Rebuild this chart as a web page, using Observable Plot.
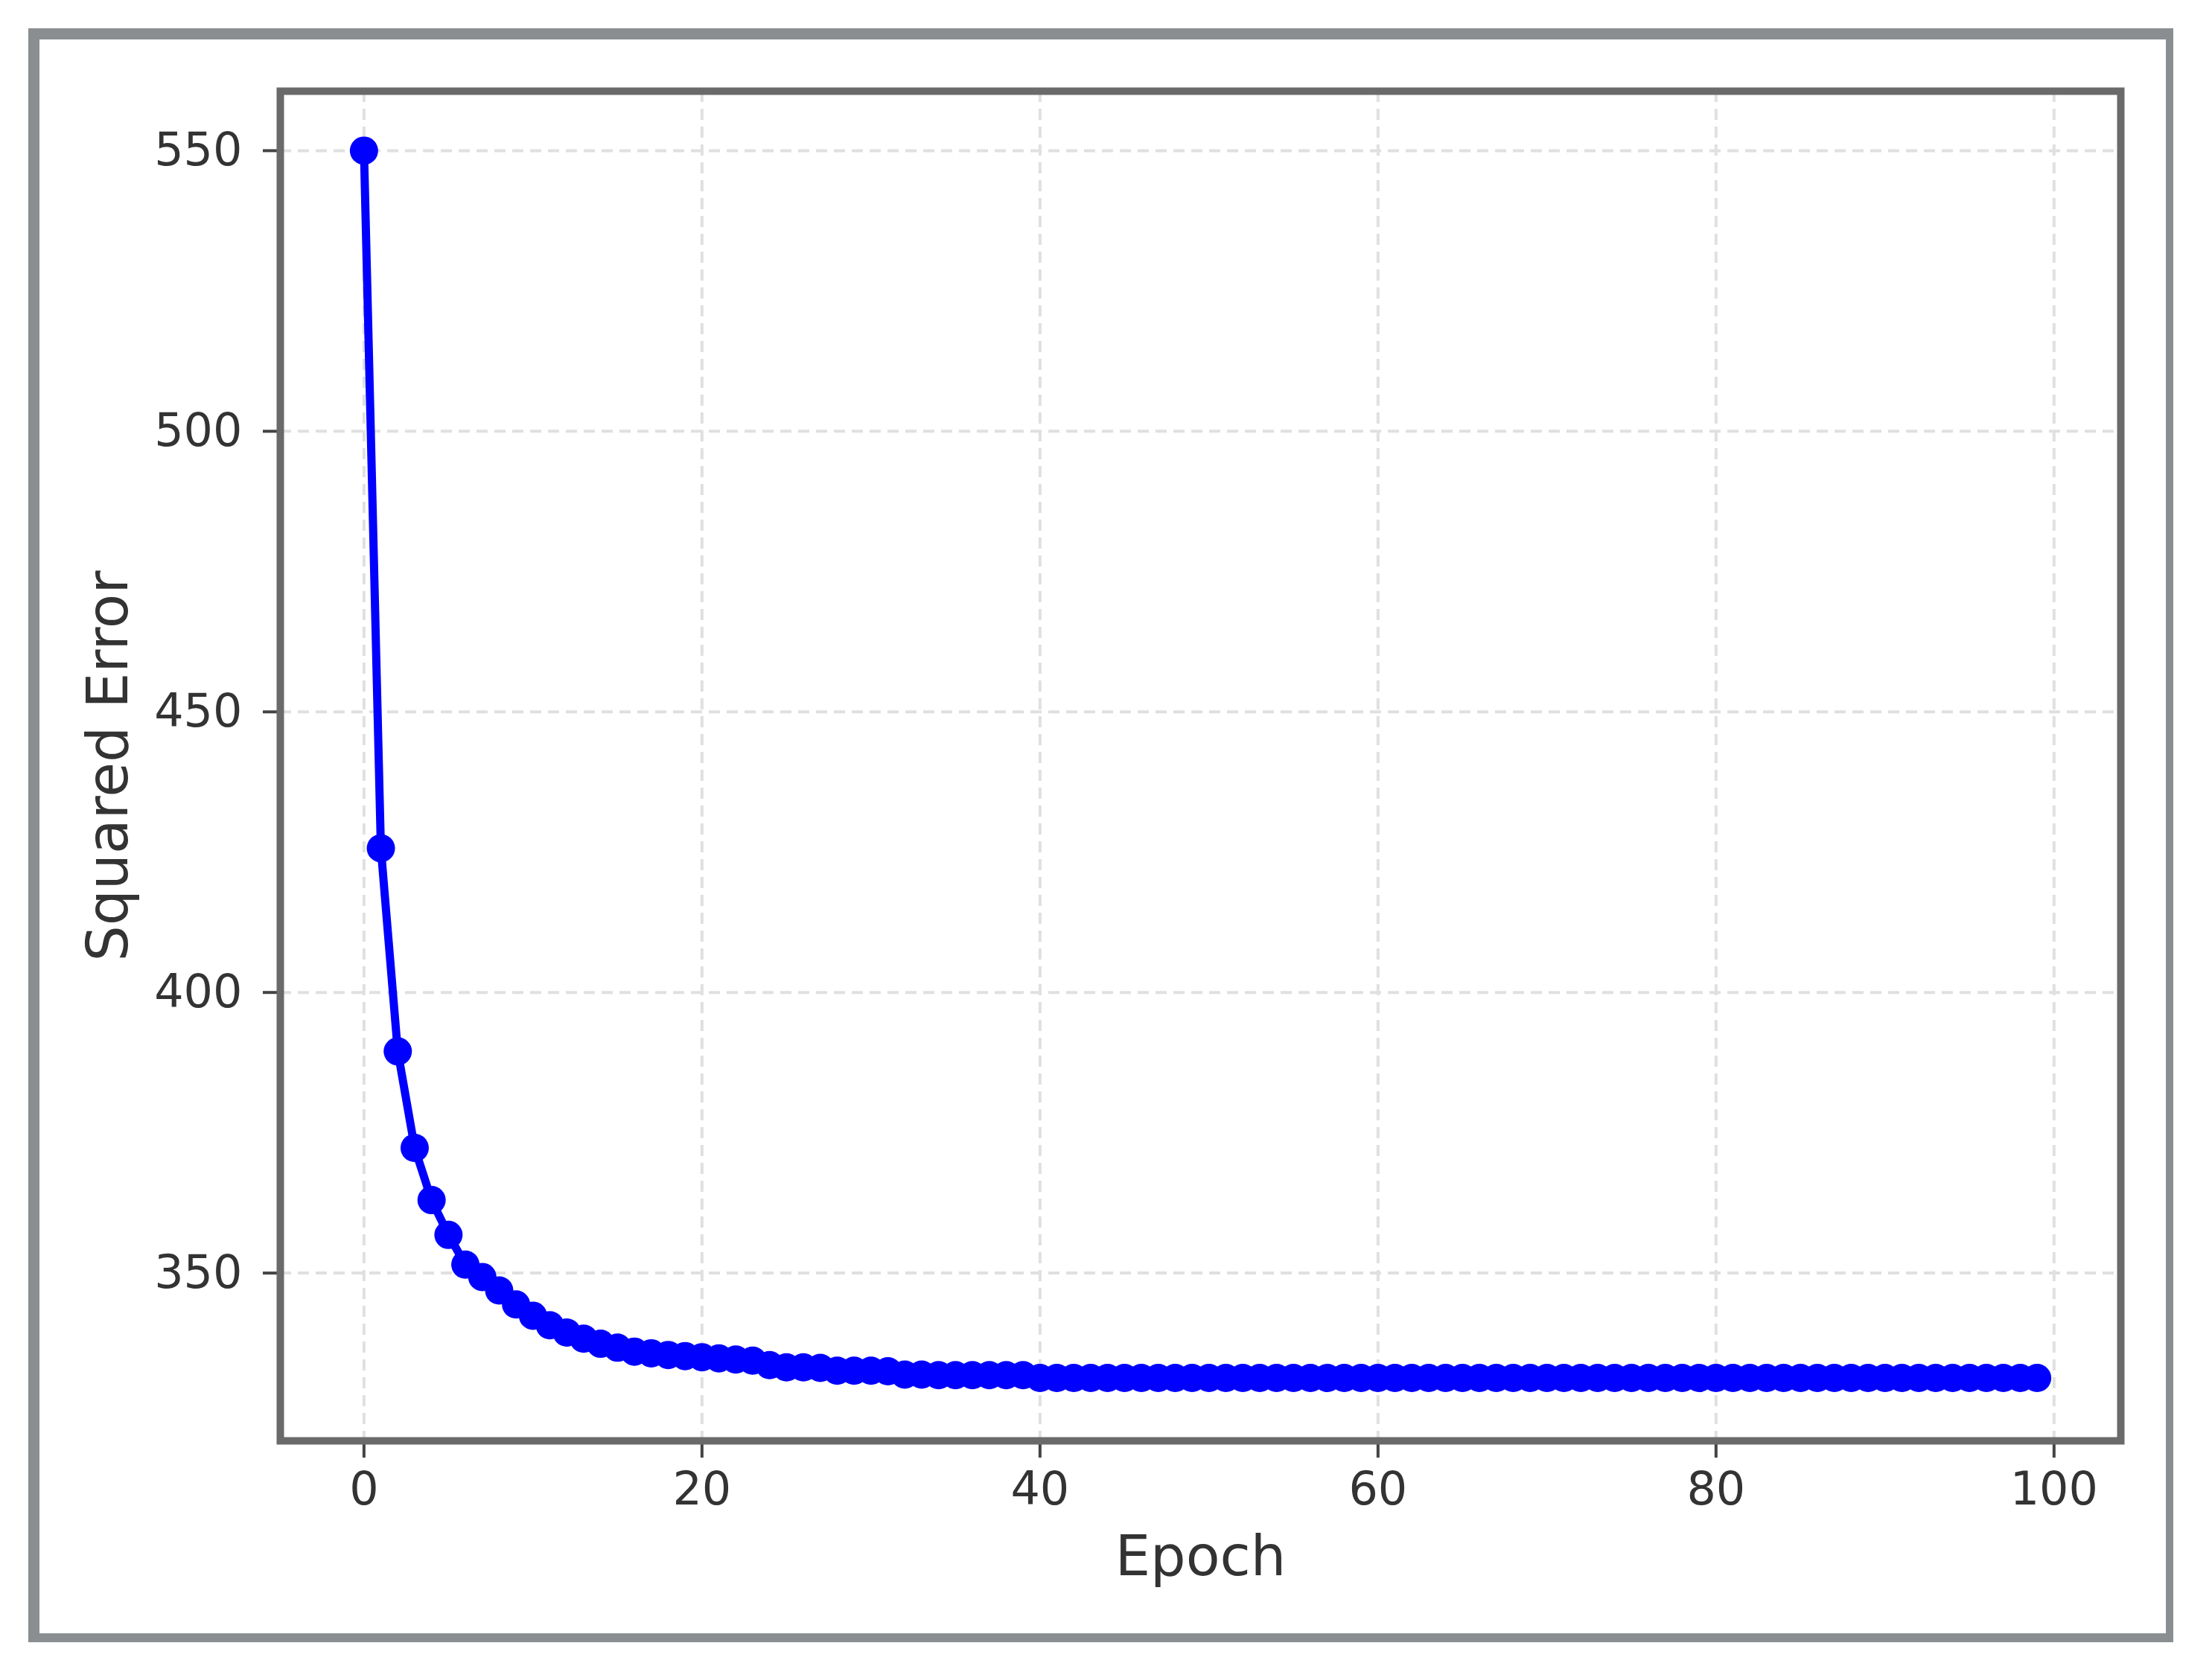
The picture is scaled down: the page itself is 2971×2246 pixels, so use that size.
<!DOCTYPE html>
<html>
<head>
<meta charset="utf-8">
<script src="https://cdn.jsdelivr.net/npm/d3@7"></script>
<script src="https://cdn.jsdelivr.net/npm/@observablehq/plot@0.6"></script>
<style>
  html, body { margin: 0; padding: 0; background: #ffffff; }
  #wrap { position: relative; width: 2971px; height: 2246px; overflow: hidden; background: #fff; }
  #outer { position: absolute; left: 38px; top: 38px; width: 2856px; height: 2141px;
           border-style: solid; border-color: #8a8e90; border-width: 15px 10px 12px 15px; box-sizing: content-box; pointer-events: none; }
  #chart { position: absolute; left: 0; top: 0; }
</style>
</head>
<body>
<div id="wrap"><div id="chart"></div><div id="outer"></div></div>
<script>
// Squared error per epoch (index = epoch 0..99)
const squaredError = [
  550.0, 425.7, 389.5, 372.3, 363.0, 356.8, 351.5, 349.3, 346.9, 344.4,
  342.4, 340.7, 339.4, 338.3, 337.4, 336.7, 336.0, 335.7, 335.4, 335.2,
  335.0, 334.8, 334.6, 334.4, 333.6, 333.2, 333.2, 333.1, 332.6, 332.6,
  332.6, 332.5, 331.9, 331.9, 331.8, 331.8, 331.8, 331.8, 331.8, 331.8,
  331.3, 331.3, 331.3, 331.3, 331.3, 331.3, 331.3, 331.3, 331.3, 331.3,
  331.3, 331.3, 331.3, 331.3, 331.3, 331.3, 331.3, 331.3, 331.3, 331.3,
  331.3, 331.3, 331.3, 331.3, 331.3, 331.3, 331.3, 331.3, 331.3, 331.3,
  331.3, 331.3, 331.3, 331.3, 331.3, 331.3, 331.3, 331.3, 331.3, 331.3,
  331.3, 331.3, 331.3, 331.3, 331.3, 331.3, 331.3, 331.3, 331.3, 331.3,
  331.3, 331.3, 331.3, 331.3, 331.3, 331.3, 331.3, 331.3, 331.3, 331.3
];
const xTicks = [0, 20, 40, 60, 80, 100];
const yTicks = [350, 400, 450, 500, 550];
const xLabel = "Epoch";
const yLabel = "Squared Error";

const data = squaredError.map((v, i) => ({epoch: i, error: v}));

const gridStyle = {stroke: "#e0e0e0", strokeOpacity: 1, strokeWidth: 4, strokeDasharray: "15,9"};

const chart = Plot.plot({
  width: 2971,
  height: 2246,
  marginLeft: 376,
  marginRight: 123,
  marginTop: 122,
  marginBottom: 311,
  style: {fontFamily: "'DejaVu Sans', sans-serif", background: "transparent", color: "#333"},
  x: {domain: [-4.95, 103.95], label: null},
  y: {domain: [320.1, 560.6], label: null},
  marks: [
    Plot.gridX(xTicks, gridStyle),
    Plot.gridY(yTicks, gridStyle),
    Plot.axisX(xTicks, {tickSize: 23, tickPadding: 18, strokeWidth: 4, stroke: "#444", fontSize: 62, fill: "#333", label: null}),
    Plot.axisY(yTicks, {tickSize: 23, tickPadding: 28, strokeWidth: 4, stroke: "#444", fontSize: 62, fill: "#333", label: null}),
    Plot.line(data, {x: "epoch", y: "error", stroke: "#0000ff", strokeWidth: 11}),
    Plot.dot(data, {x: "epoch", y: "error", r: 19, fill: "#0000ff", stroke: "none"}),
    Plot.frame({stroke: "#6a6a6a", strokeWidth: 10}),
    Plot.text([xLabel], {frameAnchor: "bottom", dy: 180, fontSize: 75, fill: "#333"}),
    Plot.text([yLabel], {frameAnchor: "left", textAnchor: "middle", dx: -230, rotate: -90, fontSize: 76, fill: "#333"})
  ]
});
document.getElementById("chart").appendChild(chart);
</script>
</body>
</html>
